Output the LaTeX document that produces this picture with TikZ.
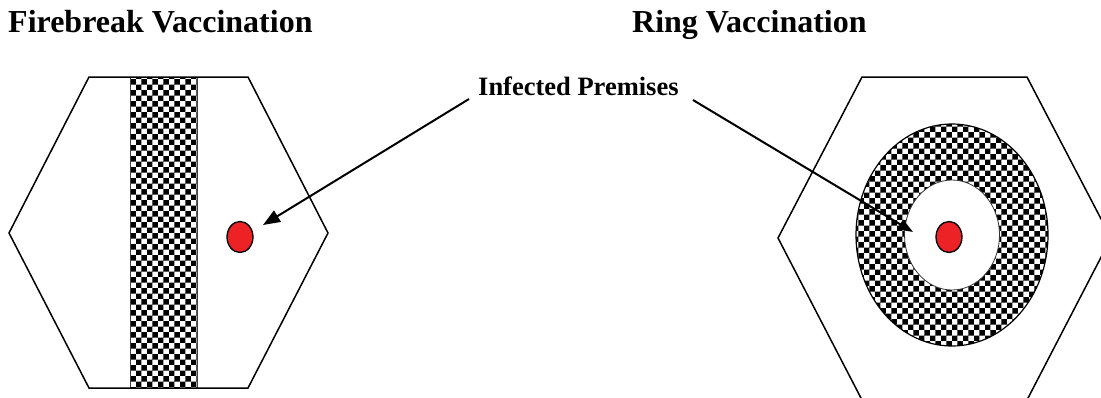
\documentclass[tikz,border=0pt]{standalone}
\usepackage{fontspec}
\setmainfont{Liberation Serif}
\usetikzlibrary{patterns,arrows.meta,shapes.geometric}
\definecolor{ipred}{HTML}{EC2227}
\begin{document}
\begin{tikzpicture}[x=1pt,y=-1pt,
  hexline/.style={draw=black,line width=1.5pt,line join=miter},
  vacc/.style={pattern=checkerboard,pattern color=black},
  ip/.style={ellipse,draw=black,line width=1.3pt,fill=ipred,minimum width=26pt,minimum height=31pt,inner sep=0pt},
  title/.style={font=\bfseries\fontsize{32}{36}\selectfont,anchor=base west,inner sep=0pt},
  lbl/.style={font=\bfseries\fontsize{26.5}{30}\selectfont,anchor=base west,inner sep=0pt},
  arr/.style={line width=2pt,-{Triangle[length=17pt,width=13pt]}}]
\useasboundingbox (0,0) rectangle (1101,397);
\fill[white] (0,0) rectangle (1101,397);
\begin{scope}
\clip (0,0) rectangle (1101,397);
% titles
\node[title] (fbtitle) at (8,32) {Firebreak Vaccination};
\node[title] (ringtitle) at (632,32) {Ring Vaccination};
% left: firebreak
\path[vacc] (130,77) rectangle (197,388);
\draw[black!75,line width=1pt] (130,77) -- (130,388) (197,77) -- (197,388);
\draw[hexline] (89,77) -- (248,77) -- (328,233) -- (248,388) -- (89,388) -- (9,233) -- cycle;
\node[ip] (ipL) at (240,237) {};
% right: ring
\draw[hexline] (862,77) -- (1027,77) -- (1111,238) -- (1027,400) -- (862,400) -- (778,238) -- cycle;
\draw[vacc,draw=black,line width=1.2pt] (952,235) ellipse [x radius=96pt, y radius=111pt];
\draw[fill=white,draw=black!80,line width=0.8pt] (952,235) ellipse [x radius=47.5pt, y radius=55pt];
\node[ip] (ipR) at (949,237) {};
% label and arrows
\node[lbl] (label) at (478,95) {Infected Premises};
\coordinate (startL) at (469,99);
\coordinate (tipL) at (263,225);
\coordinate (startR) at (693,100);
\coordinate (tipR) at (913,232);
\draw[arr] (startL) -- (tipL);
\draw[arr,-{Triangle[length=15pt,width=11pt]}] (startR) -- (tipR);
\end{scope}
\end{tikzpicture}
\end{document}
